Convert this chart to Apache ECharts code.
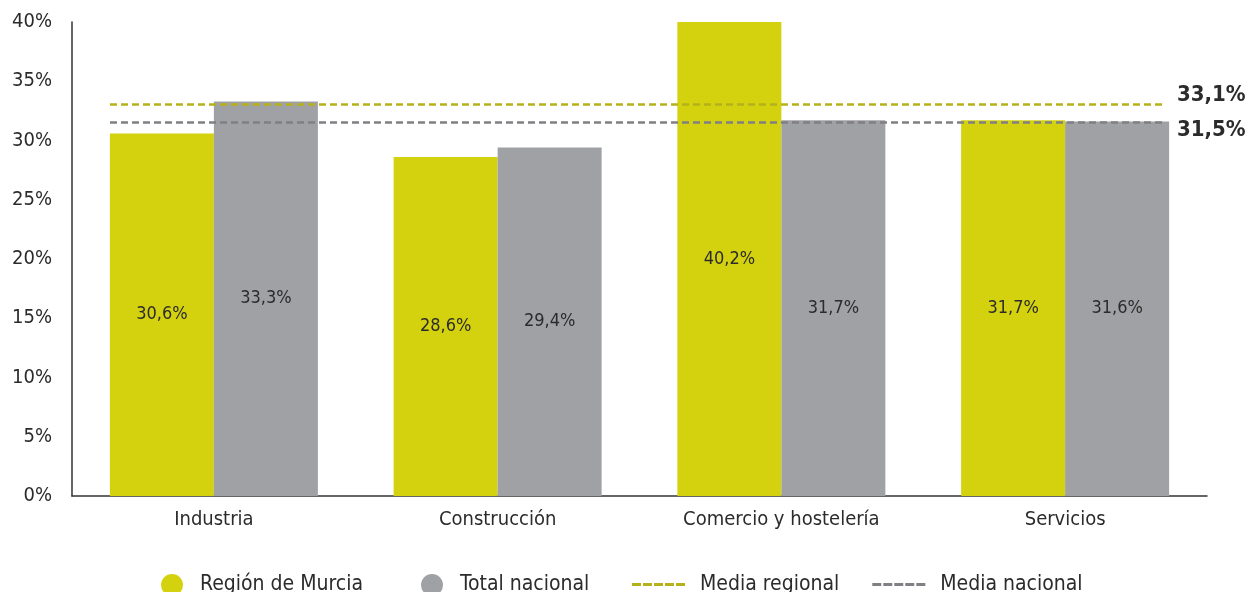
<!DOCTYPE html>
<html>
<head>
<meta charset="utf-8">
<script src="https://cdn.jsdelivr.net/npm/echarts@6/dist/echarts.min.js"></script>
<style>
  html, body { margin: 0; padding: 0; background: #fff; }
  #chart { width: 1248px; height: 592px; }
</style>
</head>
<body>
<div id="chart"></div>
<script>
var categories = ['Industria', 'Construcción', 'Comercio y hostelería', 'Servicios'];
var murcia = [30.6, 28.6, 40.2, 31.7];
var nacional = [33.3, 29.4, 31.7, 31.6];
var mediaRegional = 33.1;
var mediaNacional = 31.5;

var FONT = "'Liberation Sans Narrow', 'DejaVu Sans Condensed', sans-serif";
var dashIcon = 'path://M0,0h9v3h-9z M11,0h9v3h-9z M22,0h9v3h-9z M33,0h9v3h-9z M44,0h9v3h-9z';

function pct(v) {
  return String(v).replace('.', ',') + '%';
}

var chart = echarts.init(document.getElementById('chart'));
var options = {
  animation: false,
  textStyle: { fontFamily: FONT },
  grid: { left: 72, right: 41, top: 22, bottom: 96 },
  legend: [{
    data: [{ name: 'Región de Murcia', icon: 'circle' }, { name: 'Total nacional', icon: 'circle' }],
    left: 156, top: 569,
    itemWidth: 46, itemHeight: 22, itemGap: 58,
    textStyle: { fontFamily: FONT, fontSize: 21, color: '#2b2b2b' }
  }, {
    data: [{ name: 'Media regional', icon: dashIcon }, { name: 'Media nacional', icon: dashIcon }],
    left: 627, top: 569,
    itemWidth: 53, itemHeight: 22, itemGap: 33,
    textStyle: { fontFamily: FONT, fontSize: 21, color: '#2b2b2b', padding: [0, 0, 0, 10] }
  }],
  xAxis: {
    type: 'category',
    data: categories,
    axisTick: { show: false },
    axisLine: { lineStyle: { color: '#333', width: 1.5 } },
    axisLabel: { margin: 14, fontSize: 20, color: '#2b2b2b', fontFamily: FONT }
  },
  yAxis: {
    type: 'value',
    min: 0, max: 40, interval: 5,
    splitLine: { show: false },
    axisTick: { show: false },
    axisLine: { show: true, lineStyle: { color: '#333', width: 1.5 } },
    axisLabel: { margin: 20, fontSize: 20, color: '#2b2b2b', fontFamily: FONT, formatter: '{value}%' }
  },
  series: [{
    name: 'Región de Murcia',
    type: 'bar',
    data: murcia,
    barWidth: 104,
    barGap: '0%',
    itemStyle: { color: '#d4d20f' },
    label: { show: true, position: 'inside', fontSize: 18, color: '#2b2b2b', fontFamily: FONT, formatter: function (p) { return pct(p.value); } }
  }, {
    name: 'Total nacional',
    type: 'bar',
    data: nacional,
    barWidth: 104,
    barGap: '0%',
    itemStyle: { color: '#a0a1a5' },
    label: { show: true, position: 'inside', fontSize: 18, color: '#2b2b2b', fontFamily: FONT, formatter: function (p) { return pct(p.value); } }
  }, {
    name: 'Media regional',
    type: 'line',
    data: [],
    itemStyle: { color: '#b5b11a' },
    lineStyle: { color: '#b5b11a' },
    markLine: {
      silent: true,
      symbol: 'none',
      lineStyle: { color: '#b5b11a', type: [7, 4], width: 2.5 },
      label: { position: 'end', distance: 12, offset: [0, -8], fontSize: 22, fontWeight: 'bold', color: '#2b2b2b', fontFamily: FONT, formatter: function () { return pct(mediaRegional); } },
      data: [[{ x: 110, yAxis: mediaRegional }, { x: 1165, yAxis: mediaRegional }]]
    }
  }, {
    name: 'Media nacional',
    type: 'line',
    data: [],
    itemStyle: { color: '#808084' },
    lineStyle: { color: '#808084' },
    markLine: {
      silent: true,
      symbol: 'none',
      lineStyle: { color: '#808084', type: [7, 4], width: 2.5 },
      label: { position: 'end', distance: 12, offset: [0, 8], fontSize: 22, fontWeight: 'bold', color: '#2b2b2b', fontFamily: FONT, formatter: function () { return pct(mediaNacional); } },
      data: [[{ x: 110, yAxis: mediaNacional }, { x: 1165, yAxis: mediaNacional }]]
    }
  }]
};
chart.setOption(options);
</script>
</body>
</html>
